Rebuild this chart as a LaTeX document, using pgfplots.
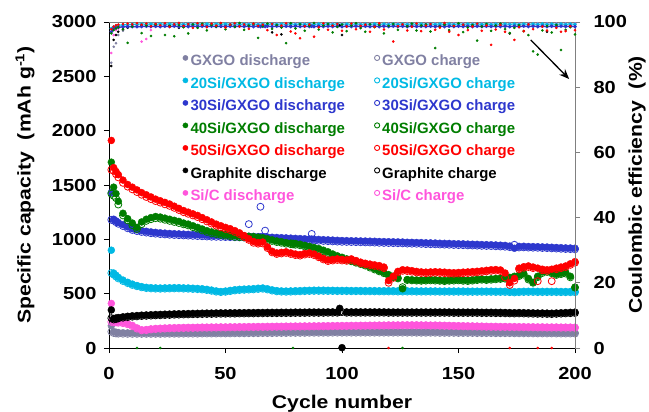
\documentclass[border=0pt]{standalone}
\usepackage{fontspec}
\setmainfont{Liberation Sans}
\newfontfamily\wide{Liberation Sans}[FakeStretch=1.15]
\usepackage{pgfplots}
\usepackage{pgfplotstable}
\pgfplotsset{compat=1.18}
\usetikzlibrary{arrows.meta}
\definecolor{gxc}{RGB}{128,128,162}
\definecolor{cyc}{RGB}{0,185,228}
\definecolor{blc}{RGB}{45,55,205}
\definecolor{grc}{RGB}{0,125,0}
\definecolor{rdc}{RGB}{255,0,0}
\definecolor{pkc}{RGB}{255,85,220}
\newcommand\lab{\wide\bfseries\fontsize{18.5}{20}\selectfont}
\newcommand\tik{\wide\bfseries\fontsize{17.5}{18}\selectfont}

% GXGO
\pgfplotstableread{
x d c e
1 205 150 87.5
2 150 138 92.4
3 145 134 93.5
4 142 132 96.0
6 140 131 97.3
8 139 130 98.2
10 139 130 98.8
12 138 130 99.1
14 138 130 99.3
16 138 130 99.4
18 138 130 99.5
20 138 130 99.4
22 138 130 99.5
24 139 131 99.6
26 139 131 99.5
28 139 131 99.4
30 139 131 99.6
32 140 132 99.5
34 140 132 99.6
36 140 132 99.5
38 140 132 99.4
40 141 133 99.6
42 141 133 99.5
44 141 133 99.6
46 141 133 99.5
48 142 134 99.6
50 142 134 99.5
52 142 134 99.4
54 143 135 99.6
56 143 135 99.5
58 143 135 99.6
60 144 136 99.5
62 144 136 99.6
64 144 136 99.5
66 145 137 99.4
68 145 137 99.6
70 145 137 99.5
72 146 138 99.6
74 146 138 99.5
76 146 138 99.6
78 147 139 99.5
80 147 139 99.4
82 147 139 99.6
84 147 139 99.5
86 148 140 99.6
88 148 140 99.5
90 148 140 99.6
92 148 140 99.5
94 148 140 99.4
96 149 141 99.6
98 149 141 99.5
100 149 141 99.6
102 149 141 99.5
104 149 141 99.6
106 149 141 99.5
108 149 141 99.4
110 149 141 99.6
112 149 141 99.5
114 149 141 99.6
116 149 141 99.5
118 149 141 99.6
120 149 141 99.5
122 149 141 99.4
124 149 141 99.6
126 149 141 99.5
128 149 141 99.6
130 149 141 99.5
132 148 140 99.6
134 148 140 99.5
136 148 140 99.4
138 148 140 99.6
140 148 140 99.5
142 147 139 99.6
144 147 139 99.5
146 147 139 99.6
148 147 139 99.5
150 146 138 99.4
152 146 138 99.6
154 146 138 99.5
156 146 138 99.6
158 145 137 99.5
160 145 137 99.6
162 145 137 99.5
164 145 137 99.4
166 144 136 99.6
168 144 136 99.5
170 144 136 99.6
172 144 136 99.5
174 143 135 99.6
176 143 135 99.5
178 143 135 99.4
180 143 135 99.6
182 142 134 99.5
184 142 134 99.6
186 142 134 99.5
188 142 134 99.6
190 142 134 99.5
192 141 133 99.4
194 141 133 99.6
196 141 133 99.5
198 141 133 99.6
200 141 133 99.5
}\tgx

% Si/C
\pgfplotstableread{
x d c e
1 410 240 90.5
2 250 238 96.0
3 245 235 97.5
4 240 232 98.0
6 235 228 98.5
8 225 218 98.8
10 208 200 99.0
12 185 178 98.5
14 168 162 94.0
16 170 164 94.8
18 176 170 97.5
20 180 174 98.5
22 182 176 99.0
24 184 178 99.2
26 186 180 99.3
28 187 181 99.4
30 188 182 99.4
32 189 183 99.5
34 190 184 99.4
36 190 184 99.5
38 191 185 99.4
40 192 186 99.5
42 192 186 99.3
44 193 187 99.5
46 193 187 99.4
48 194 188 99.5
50 194 188 99.3
52 195 189 99.5
54 195 189 99.4
56 196 190 99.5
58 196 190 99.3
60 197 191 99.5
62 197 191 99.4
64 198 192 99.5
66 198 192 99.3
68 199 193 99.5
70 199 193 99.4
72 200 194 99.5
74 200 194 99.3
76 201 195 99.5
78 201 195 99.4
80 202 196 99.5
82 202 196 99.3
84 203 197 99.5
86 203 197 99.4
88 204 198 99.5
90 204 198 99.3
92 205 199 99.5
94 205 199 99.4
96 206 200 99.5
98 206 200 99.3
100 207 201 99.5
102 207 201 99.4
104 208 202 99.5
106 208 202 99.3
108 209 203 99.5
110 209 203 99.4
112 210 204 99.5
114 210 204 99.3
116 211 205 99.5
118 211 205 99.4
120 212 206 99.5
122 212 206 99.3
124 212 206 99.5
126 213 207 99.4
128 213 207 99.5
130 213 207 99.3
132 213 207 99.5
134 212 206 99.4
136 212 206 99.5
138 211 205 99.3
140 211 205 99.5
142 210 204 99.4
144 209 203 99.5
146 208 202 99.3
148 207 201 99.5
150 206 200 99.4
152 205 199 99.5
154 204 198 99.3
156 203 197 99.5
158 202 196 99.4
160 201 195 99.5
162 200 194 99.3
164 199 193 99.5
166 199 193 99.4
168 198 192 99.5
170 198 192 99.3
172 197 191 99.5
174 197 191 99.4
176 196 190 99.5
178 196 190 99.3
180 195 189 99.5
182 195 189 99.4
184 194 188 99.5
186 194 188 99.3
188 193 187 99.5
190 193 187 99.4
192 193 187 99.5
194 192 186 99.3
196 192 186 99.5
198 192 186 99.4
200 191 185 99.5
}\tsc

% Graphite
\pgfplotstableread{
x d c e
1 350 275 86.5
2 272 262 94.5
3 276 266 96.0
4 280 272 97.0
6 287 279 97.8
8 292 284 98.3
10 296 288 98.6
12 299 291 98.8
14 302 294 99.0
16 304 296 98.9
18 306 298 99.1
20 308 300 99.0
22 309 301 98.7
24 311 303 99.1
26 312 304 99.0
28 314 306 98.9
30 315 307 98.2
32 316 308 99.1
34 317 309 99.0
36 318 310 98.8
38 319 311 99.1
40 320 312 99.0
42 321 313 98.9
44 321 313 99.1
46 322 314 99.0
48 323 315 98.6
50 323 315 99.1
52 324 316 99.0
54 324 316 98.9
56 325 317 99.1
58 325 317 99.0
60 326 318 98.8
62 326 318 99.1
64 327 319 99.0
66 327 319 98.9
68 328 320 99.1
70 328 320 96.8
72 328 320 99.0
74 329 321 96.2
76 329 321 99.1
78 329 321 99.0
80 330 322 98.9
82 330 322 99.1
84 330 322 99.0
86 331 323 98.8
88 331 323 99.1
90 331 323 99.0
92 331 323 98.9
94 332 324 99.1
96 332 324 99.0
98 332 324 98.8
99 365 332 99.0
100 3 331 96.0
102 332 324 99.1
104 332 324 99.0
106 332 324 98.9
108 332 324 99.1
110 332 324 99.0
112 332 324 98.8
114 332 324 99.1
116 332 324 99.0
118 332 324 98.9
120 331 323 99.1
122 331 323 99.0
124 331 323 98.8
126 331 323 99.1
128 331 323 99.0
130 331 323 98.9
132 331 323 99.1
134 331 323 99.0
136 331 323 98.8
138 331 323 99.1
140 331 323 99.0
142 331 323 98.9
144 331 323 99.1
146 331 323 99.0
148 330 322 98.8
150 330 322 99.1
152 330 322 99.0
154 330 322 98.9
156 330 322 99.1
158 330 322 99.0
160 329 321 98.8
162 329 321 99.1
164 329 321 99.0
166 328 320 98.9
168 328 320 99.1
170 327 319 99.0
172 326 318 96.5
174 325 317 99.1
176 326 318 99.0
178 325 317 98.9
180 324 316 99.1
182 323 315 99.0
184 322 314 98.8
186 322 314 99.1
188 321 313 97.0
190 320 312 99.0
192 322 314 98.9
194 324 316 99.1
196 326 318 99.0
198 328 320 98.8
200 330 322 99.1
}\tgr

% 20Si/GXGO
\pgfplotstableread{
x d c e
1 900 690 98.0
2 690 675 98.5
3 670 658 98.8
4 650 640 99.0
6 625 616 99.1
8 605 597 99.2
10 588 580 99.3
12 575 568 99.3
14 565 558 99.4
16 558 551 99.3
18 555 548 99.4
20 553 546 99.3
22 552 545 99.4
24 553 546 99.3
26 554 547 99.4
28 555 548 99.3
30 555 548 99.4
32 553 546 99.3
34 552 545 99.4
36 550 543 99.3
38 548 541 99.4
40 545 538 99.3
42 540 533 99.4
44 533 526 99.3
46 525 518 99.4
48 520 514 99.3
50 524 517 99.4
52 530 523 99.3
54 536 529 99.4
56 540 533 99.3
58 542 535 99.4
60 544 537 99.3
62 546 539 99.4
64 550 543 99.3
66 552 545 99.4
68 545 538 99.3
70 535 528 99.4
72 528 521 99.3
74 525 518 99.4
76 524 517 99.3
78 525 518 99.4
80 527 520 99.3
82 528 521 99.4
84 530 523 99.3
86 531 524 99.4
88 532 525 99.3
90 532 525 99.4
92 532 525 99.3
94 531 524 99.4
96 531 524 99.3
98 530 523 99.4
100 530 523 99.3
102 530 523 99.4
104 529 522 99.3
106 529 522 99.4
108 529 522 99.3
110 528 521 99.4
112 528 521 99.3
114 528 521 99.4
116 527 520 99.3
118 527 520 99.4
120 527 520 99.3
122 527 520 99.4
124 526 519 99.3
126 526 519 99.4
128 526 519 99.3
130 526 519 99.4
132 525 518 99.3
134 525 518 99.4
136 525 518 99.3
138 525 518 99.4
140 525 518 99.3
142 524 517 99.4
144 524 517 99.3
146 524 517 99.4
148 524 517 99.3
150 524 517 99.4
152 524 517 99.3
154 523 516 99.4
156 523 516 99.3
158 523 516 99.4
160 523 516 99.3
162 523 516 99.4
164 523 516 99.3
166 522 515 99.4
168 522 515 99.3
170 522 515 99.4
172 520 513 99.3
174 518 511 99.4
176 520 513 99.3
178 522 515 99.4
180 522 515 99.3
182 522 515 99.4
184 521 514 99.3
186 521 514 99.4
188 521 514 99.3
190 521 514 99.4
192 521 514 99.3
194 520 513 99.4
196 520 513 99.3
198 520 513 99.4
200 520 513 99.3
}\tsa

% 30Si/GXGO
\pgfplotstableread{
x d c e
1 1430 1180 97.0
2 1185 1172 98.0
3 1170 1158 98.3
4 1155 1143 98.4
6 1135 1122 98.5
8 1115 1102 98.6
10 1098 1086 98.6
12 1088 1076 98.6
14 1080 1068 98.6
16 1074 1062 98.7
18 1068 1056 98.6
20 1064 1052 98.7
22 1060 1048 98.6
24 1057 1045 98.7
26 1054 1042 98.6
28 1052 1040 98.7
30 1050 1038 98.6
32 1048 1036 98.7
34 1046 1034 98.6
36 1044 1032 98.7
38 1042 1030 98.6
40 1040 1028 98.7
42 1038 1026 98.6
44 1036 1024 98.7
46 1035 1023 98.6
48 1034 1022 98.7
50 1033 1021 98.6
52 1032 1020 98.7
54 1031 1019 98.6
56 1030 1018 98.7
58 1029 1017 98.6
60 1028 1140 98.7
62 1027 1015 98.6
64 1025 1013 98.7
65 1024 1300 98.6
66 1023 1011 98.7
67 1022 1080 98.6
68 1021 1009 98.7
70 1019 1007 98.6
72 1017 1005 98.7
74 1015 1003 98.6
76 1013 1001 98.7
78 1011 999 98.6
80 1009 997 98.7
82 1007 995 98.6
84 1005 993 98.7
86 1003 991 98.6
87 1002 1050 98.7
88 1001 989 98.6
90 999 987 98.7
92 997 985 98.6
94 995 983 98.7
96 993 981 98.6
98 991 979 98.7
100 989 977 98.6
102 988 976 98.7
104 987 975 98.6
106 986 974 98.7
108 985 973 98.6
110 984 972 98.7
112 983 971 98.6
114 982 970 98.7
116 980 968 98.6
118 979 967 98.7
120 978 966 98.6
122 977 965 98.7
124 976 964 98.6
126 975 963 98.7
128 973 961 98.6
130 972 960 98.7
132 971 959 98.6
134 970 958 98.7
136 968 956 98.6
138 967 955 98.7
140 966 954 98.6
142 964 952 98.7
144 963 951 98.6
146 962 950 98.7
148 960 948 98.6
150 959 947 98.7
152 958 946 98.6
154 956 944 98.7
156 955 943 98.6
158 954 942 98.7
160 952 940 98.6
162 951 939 98.7
164 950 938 98.6
166 948 936 98.7
168 946 934 98.6
170 944 932 98.7
172 938 928 98.6
174 918 950 98.7
176 935 925 98.6
178 936 926 98.7
180 934 924 98.6
182 933 923 98.7
184 932 922 98.6
186 930 920 98.7
188 929 919 98.6
190 927 917 98.7
192 925 915 98.6
194 923 913 98.7
196 921 911 98.6
198 920 910 98.7
200 918 908 98.6
}\tsb

% 40Si/GXGO
\pgfplotstableread{
x d c e
1 1710 1420 96.5
2 1480 1400 97.5
3 1420 1380 98.0
4 1350 1320 98.4
6 1240 1220 97.8
8 1190 1175 93.6
10 1150 1130 98.6
12 1110 1095 0
14 1160 1140 96.6
16 1185 1170 98.9
18 1200 1185 95.7
20 1210 1195 99.2
22 1205 1190 0
24 1195 1180 96.0
26 1185 1170 98.8
28 1175 1160 95.6
30 1165 1150 99.0
32 1150 1138 98.4
34 1140 1128 96.5
36 1125 1112 99.3
38 1110 1098 98.2
40 1095 1082 99.5
42 1080 1068 97.4
44 1068 1055 99.1
46 1060 1048 98.6
48 1052 1040 99.6
50 1045 1033 97.8
52 1040 1028 99.2
54 1035 1022 98.5
56 1032 1020 99.7
58 1030 1018 97.6
60 1028 1015 98.9
62 1025 1012 99.4
64 1020 1008 95.1
66 1015 1002 98.7
68 1005 995 99.5
70 995 985 97.9
72 985 975 99.1
74 978 968 98.3
76 970 960 93.5
78 965 955 99.6
79 963 953 0
80 962 950 98.0
82 955 945 99.3
84 945 935 97.3
86 935 925 98.8
88 925 915 99.7
90 915 905 97.7
92 900 890 98.9
94 885 875 99.4
96 865 855 96.8
98 848 840 98.5
100 835 825 99.2
102 820 812 97.2
104 805 798 98.9
106 792 785 99.6
108 780 772 98.1
110 765 758 97.0
112 748 740 99.3
114 730 722 98.4
116 712 705 99.1
118 695 688 96.5
120 675 668 98.8
122 660 652 99.4
124 645 640 97.6
126 545 560 0
128 630 625 98.7
130 628 622 99.5
132 626 620 97.4
134 625 618 98.9
136 627 620 99.3
138 630 622 97.1
140 628 620 92.0
142 625 618 98.6
144 622 615 99.2
146 625 618 97.5
148 628 620 98.8
150 630 622 99.6
152 626 618 96.9
154 624 616 98.3
156 628 620 99.1
158 632 625 94.3
160 635 628 98.6
162 632 625 99.4
164 636 628 97.3
166 640 632 98.9
168 642 635 99.5
170 645 638 97.8
172 650 640 96.6
174 660 650 98.2
176 670 662 99.0
178 685 675 97.2
180 640 630 96.0
182 605 600 91.0
184 660 652 90.0
186 700 690 97.4
188 712 700 98.8
190 695 688 96.8
192 680 672 99.1
194 688 680 91.4
196 695 685 97.6
198 660 650 98.4
200 560 555 96.2
}\tsg

% 50Si/GXGO
\pgfplotstableread{
x d c e
1 1910 1640 97.8
2 1660 1630 98.6
3 1625 1600 99.0
4 1595 1570 99.2
6 1545 1520 99.4
8 1505 1485 99.5
10 1480 1460 99.3
12 1455 1435 99.6
14 1430 1410 99.2
16 1410 1390 99.5
18 1390 1370 98.7
20 1370 1352 99.4
22 1355 1338 99.0
24 1340 1322 99.6
26 1325 1308 98.5
28 1305 1290 99.3
30 1285 1270 99.7
32 1265 1250 98.8
34 1250 1235 99.4
36 1235 1220 98.2
38 1220 1205 99.6
40 1200 1185 99.1
42 1180 1165 98.4
44 1160 1145 99.5
46 1140 1126 98.9
48 1125 1110 99.7
50 1110 1096 98.3
52 1098 1085 99.2
54 1080 1068 99.6
56 1060 1048 98.6
58 1035 1022 99.3
60 1005 995 97.9
62 980 968 99.5
64 970 960 98.8
66 975 962 99.2
68 930 920 97.5
70 890 880 99.4
72 875 865 96.0
74 880 870 98.9
76 885 875 99.6
78 875 865 97.1
80 865 855 96.5
82 860 850 95.0
84 870 860 98.7
86 875 865 99.3
88 865 855 95.5
90 845 835 98.4
92 825 815 99.6
94 810 800 97.6
96 815 805 98.9
98 820 810 99.4
100 815 805 97.3
102 812 802 98.6
104 820 810 99.5
106 805 795 97.8
108 790 780 98.8
110 780 770 99.2
112 772 762 97.0
114 765 755 98.5
116 758 748 99.6
118 745 735 97.7
120 620 600 0
122 660 645 94.0
124 705 695 98.7
126 720 710 99.3
128 718 708 97.4
130 712 702 98.6
132 705 695 99.5
134 700 690 97.2
136 698 688 98.9
138 700 690 99.4
140 702 692 97.6
142 700 690 98.3
144 698 688 99.7
146 695 685 97.0
148 693 683 98.8
150 695 685 96.0
152 698 688 99.2
154 700 690 97.5
156 703 693 98.6
158 706 696 99.5
160 710 700 97.3
162 715 705 98.9
164 720 710 93.0
166 722 712 97.7
168 718 708 99.1
170 690 650 97.0
172 600 580 0
174 640 620 94.5
176 735 725 98.4
178 748 738 97.2
180 755 745 99.3
182 745 735 97.8
184 735 615 0
186 725 715 98.6
188 720 710 97.4
190 725 615 0
192 735 725 98.2
194 745 735 97.0
196 755 745 97.2
198 775 765 98.7
200 795 785 97.5
}\tsd

\begin{document}
\begin{tikzpicture}
\begin{axis}[name=ax, scale only axis, width=466bp, height=326bp,
  xmin=0, xmax=200, ymin=0, ymax=3000, clip=false,
  axis x line*=bottom, axis y line*=left,
  xtick={0,50,100,150,200}, ytick={0,500,...,3000},
  tick align=outside, major tick length=5bp,
  tick style={black, line width=0.8bp}, axis line style={line width=0.8bp},
  /pgf/number format/assume math mode=true, /pgf/number format/1000 sep={},
  tick label style={font=\tik},
  xticklabel style={yshift=-11bp},
  yticklabel style={xshift=-4bp},
  xlabel={Cycle number},
  xlabel style={font=\lab, at={(axis description cs:0.5,0)}, anchor=base, yshift=-60bp},
  ylabel={Specific capacity\ \ (mAh g\textsuperscript{-1})},
  ylabel style={font=\lab, at={([xshift=-84bp]axis description cs:0,0.5)}, anchor=center},
  legend columns=2, legend cell align=left,
  legend image code/.code={\draw[#1] plot coordinates {(0bp,4bp)};},
  legend style={at={(rel axis cs:0.158,0.905)}, anchor=north west, draw=none, fill=none,
    font=\bfseries\fontsize{15}{16}\selectfont, inner sep=0pt, row sep=5bp, column sep=1bp,
    nodes={inner sep=1.5bp, text height=11bp, text depth=3.5bp},
    /tikz/every even column/.append style={column sep=28bp}},
]
% capacity
\addplot[forget plot, only marks, mark=*, mark size=3.5bp, color=gxc] table[x=x,y=d]{\tgx};
\addplot[forget plot, only marks, mark=o, mark size=3.5bp, color=gxc, mark options={line width=0.8bp}] table[x=x,y=c]{\tgx};
\addplot[forget plot, only marks, mark=*, mark size=3.5bp, color=pkc] table[x=x,y=d]{\tsc};
\addplot[forget plot, only marks, mark=o, mark size=3.5bp, color=pkc, mark options={line width=0.8bp}] table[x=x,y=c]{\tsc};
\addplot[forget plot, only marks, mark=*, mark size=3.5bp, color=black] table[x=x,y=d]{\tgr};
\addplot[forget plot, only marks, mark=o, mark size=3.5bp, color=black, mark options={line width=0.8bp}] table[x=x,y=c]{\tgr};
\addplot[forget plot, only marks, mark=*, mark size=3.5bp, color=cyc] table[x=x,y=d]{\tsa};
\addplot[forget plot, only marks, mark=o, mark size=3.5bp, color=cyc, mark options={line width=0.8bp}] table[x=x,y=c]{\tsa};
\addplot[forget plot, only marks, mark=*, mark size=3.5bp, color=blc] table[x=x,y=d]{\tsb};
\addplot[forget plot, only marks, mark=o, mark size=3.5bp, color=blc, mark options={line width=0.8bp}] table[x=x,y=c]{\tsb};
\addplot[forget plot, only marks, mark=*, mark size=3.5bp, color=grc] table[x=x,y=d]{\tsg};
\addplot[forget plot, only marks, mark=o, mark size=3.5bp, color=grc, mark options={line width=0.8bp}] table[x=x,y=c]{\tsg};
\addplot[forget plot, only marks, mark=*, mark size=3.5bp, color=rdc] table[x=x,y=d]{\tsd};
\addplot[forget plot, only marks, mark=o, mark size=3.5bp, color=rdc, mark options={line width=0.8bp}] table[x=x,y=c]{\tsd};
% legend
\addlegendimage{mark=*, mark size=2.6bp, color=gxc}
\addlegendentry{\textcolor{gxc}{GXGO discharge}}
\addlegendimage{mark=o, mark size=2.6bp, color=gxc, line width=0.9bp}
\addlegendentry{\textcolor{gxc}{GXGO charge}}
\addlegendimage{mark=*, mark size=2.6bp, color=cyc}
\addlegendentry{\textcolor{cyc}{20Si/GXGO discharge}}
\addlegendimage{mark=o, mark size=2.6bp, color=cyc, line width=0.9bp}
\addlegendentry{\textcolor{cyc}{20Si/GXGO charge}}
\addlegendimage{mark=*, mark size=2.6bp, color=blc}
\addlegendentry{\textcolor{blc}{30Si/GXGO discharge}}
\addlegendimage{mark=o, mark size=2.6bp, color=blc, line width=0.9bp}
\addlegendentry{\textcolor{blc}{30Si/GXGO charge}}
\addlegendimage{mark=*, mark size=2.6bp, color=grc}
\addlegendentry{\textcolor{grc}{40Si/GXGO discharge}}
\addlegendimage{mark=o, mark size=2.6bp, color=grc, line width=0.9bp}
\addlegendentry{\textcolor{grc}{40Si/GXGO charge}}
\addlegendimage{mark=*, mark size=2.6bp, color=rdc}
\addlegendentry{\textcolor{rdc}{50Si/GXGO discharge}}
\addlegendimage{mark=o, mark size=2.6bp, color=rdc, line width=0.9bp}
\addlegendentry{\textcolor{rdc}{50Si/GXGO charge}}
\addlegendimage{mark=*, mark size=2.6bp, color=black}
\addlegendentry{\textcolor{black}{Graphite discharge}}
\addlegendimage{mark=o, mark size=2.6bp, color=black, line width=0.9bp}
\addlegendentry{\textcolor{black}{Graphite charge}}
\addlegendimage{mark=*, mark size=2.6bp, color=pkc}
\addlegendentry{\textcolor{pkc}{Si/C discharge}}
\addlegendimage{mark=o, mark size=2.6bp, color=pkc, line width=0.9bp}
\addlegendentry{\textcolor{pkc}{Si/C charge}}
\end{axis}
\begin{axis}[scale only axis, width=466bp, height=326bp,
  xmin=0, xmax=200, ymin=0, ymax=100, clip=false,
  axis x line*=top, axis y line*=right, xtick=\empty, ytick={0,20,...,100},
  tick align=outside, major tick length=5bp,
  axis line style={gray, line width=0.8bp}, tick style={gray, line width=0.8bp},
  /pgf/number format/assume math mode=true,
  tick label style={font=\tik},
  yticklabel style={xshift=10bp},
  ylabel={Coulombic efficiency\ \ (\%)},
  ylabel style={font=\lab, at={([xshift=62bp]axis description cs:1,0.5)}, anchor=center},
]
\addplot[only marks, mark=*, mark size=1.1bp, color=gxc] table[x=x,y=e]{\tgx};
\addplot[only marks, mark=*, mark size=1.1bp, color=pkc] table[x=x,y=e]{\tsc};
\addplot[only marks, mark=*, mark size=1.1bp, color=black] table[x=x,y=e]{\tgr};
\addplot[mark=*, mark size=1bp, line width=1.2bp, color=cyc] table[x=x,y=e]{\tsa};
\addplot[mark=*, mark size=1bp, line width=1.4bp, color=blc] table[x=x,y=e]{\tsb};
\addplot[only marks, mark=*, mark size=1.1bp, color=grc] table[x=x,y=e]{\tsg};
\addplot[only marks, mark=*, mark size=1.1bp, color=rdc] table[x=x,y=e]{\tsd};
\draw[-{Stealth[length=10bp,width=8bp]}, line width=1.3bp] (axis cs:181,94.5) -- (axis cs:197.5,82.5);
\end{axis}
\pgfresetboundingbox
\path[use as bounding box] ([shift={(-109bp,-64bp)}]ax.south west) rectangle ([shift={(74bp,22bp)}]ax.north east);
\end{tikzpicture}
\end{document}
